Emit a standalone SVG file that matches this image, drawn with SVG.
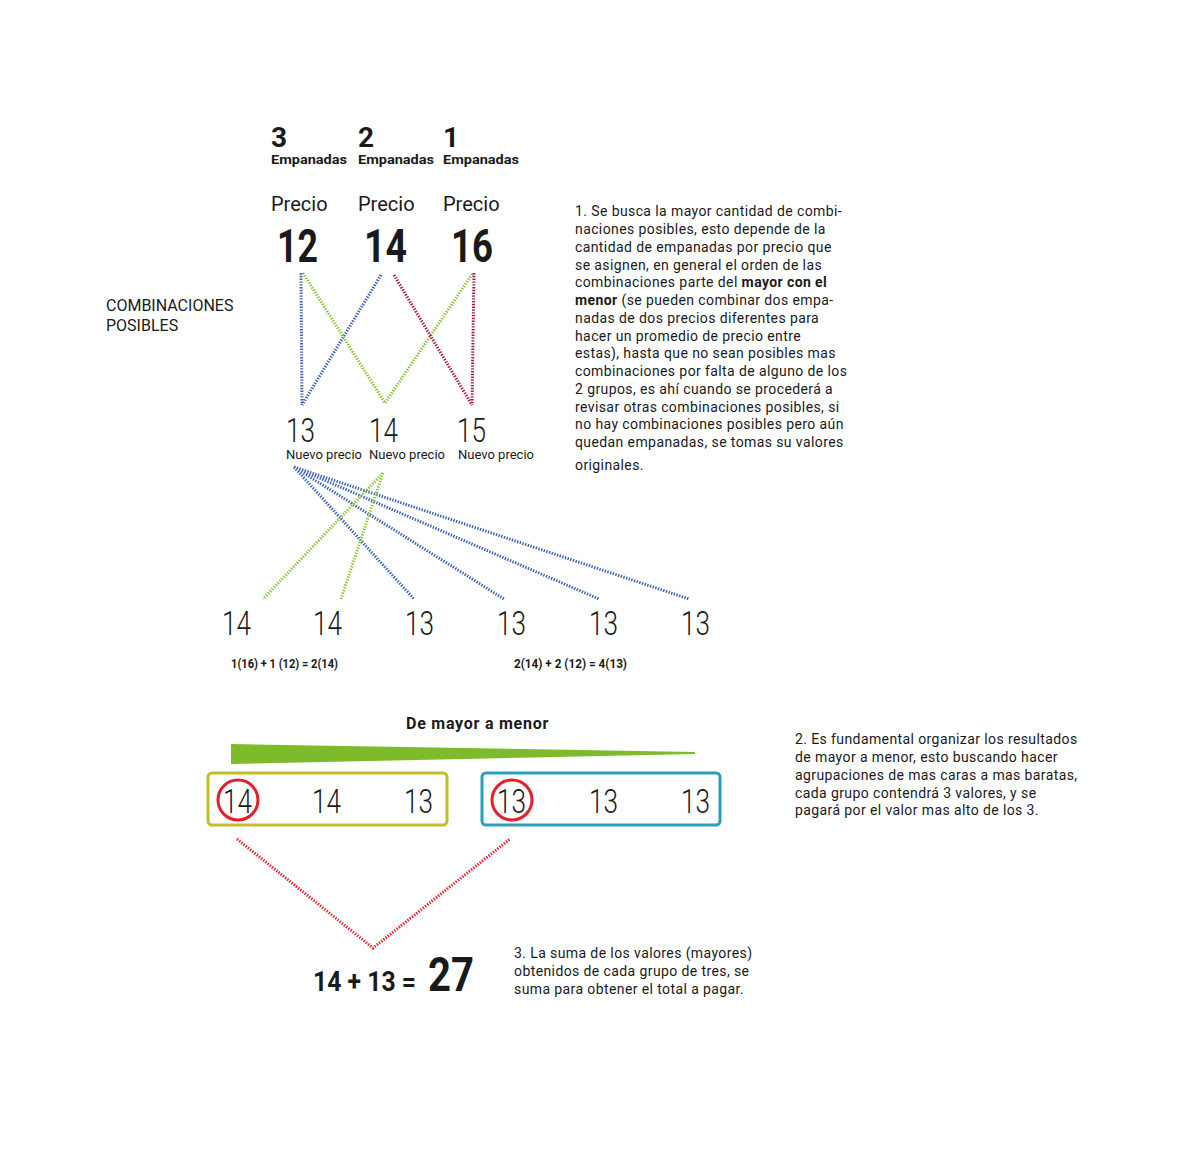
<svg xmlns="http://www.w3.org/2000/svg" width="1200" height="1151" viewBox="0 0 1200 1151">
<style>
text{font-family:Roboto,"DejaVu Sans",sans-serif;fill:#1a1a1a}
.b{font-weight:700}
.hd{font-size:28px;font-weight:700}
.emp{font-size:13px;font-weight:700}
.pre{font-size:20px}
.big{font-size:47px;font-weight:700}
.num{font-size:33px;font-weight:300}
.np{font-size:12.5px}
.p{font-size:14px;letter-spacing:0.4px}
.f{font-size:12px;font-weight:700}
.d{fill:none;stroke-width:3;stroke-dasharray:1.4 1.4}
.bl{stroke:#3d62b6}.gr{stroke:#8cc63f}.cr{stroke:#a3184a}.rd{stroke:#e5202b}
</style>
<rect width="1200" height="1151" fill="#fff"/>
<g id="header">
<text class="hd" x="271" y="147">3</text><text class="emp" x="271" y="164" textLength="76" lengthAdjust="spacingAndGlyphs">Empanadas</text>
<text class="hd" x="358" y="147">2</text><text class="emp" x="358" y="164" textLength="76" lengthAdjust="spacingAndGlyphs">Empanadas</text>
<text class="hd" x="443" y="147">1</text><text class="emp" x="443" y="164" textLength="76" lengthAdjust="spacingAndGlyphs">Empanadas</text>
</g>
<g id="prices">
<text class="pre" x="271" y="211">Precio</text><text class="big" x="277" y="262" textLength="41" lengthAdjust="spacingAndGlyphs">12</text>
<text class="pre" x="358" y="211">Precio</text><text class="big" x="364" y="262" textLength="43" lengthAdjust="spacingAndGlyphs">14</text>
<text class="pre" x="443" y="211">Precio</text><text class="big" x="451" y="262" textLength="42" lengthAdjust="spacingAndGlyphs">16</text>
</g>
<g id="label-comb"><text class="pre" style="font-size:16px" x="106" y="311">COMBINACIONES</text><text class="pre" style="font-size:16px" x="106" y="331">POSIBLES</text></g>
<g id="new-prices">
<text class="num" x="286" y="442" textLength="29" lengthAdjust="spacingAndGlyphs">13</text><text class="np" x="286" y="459" textLength="76" lengthAdjust="spacingAndGlyphs">Nuevo precio</text>
<text class="num" x="369" y="442" textLength="29" lengthAdjust="spacingAndGlyphs">14</text><text class="np" x="369" y="459" textLength="76" lengthAdjust="spacingAndGlyphs">Nuevo precio</text>
<text class="num" x="457" y="442" textLength="29" lengthAdjust="spacingAndGlyphs">15</text><text class="np" x="458" y="459" textLength="76" lengthAdjust="spacingAndGlyphs">Nuevo precio</text>
</g>
<g id="connectors">
<path class="d bl" d="M301 273L302 405M381 275L302 405"/>
<path class="d gr" d="M303 273L385 403L473 273"/>
<path class="d cr" d="M394 275L472 405M474 273L472 405"/>
<path class="d bl" d="M294 467L414 599M294 467L504 599M294 467L599 599M294 467L689 599"/>
<path class="d gr" d="M383 473L263 599M383 473L341 599"/>
<path class="d rd" d="M237 839L373 948L510 839"/>
</g>
<g id="paragraph-1">
<text class="p" x="575" y="216">1. Se busca la mayor cantidad de combi-</text>
<text class="p" x="575" y="234">naciones posibles, esto depende de la</text>
<text class="p" x="575" y="252">cantidad de empanadas por precio que</text>
<text class="p" x="575" y="270">se asignen, en general el orden de las</text>
<text class="p" x="575" y="287">combinaciones parte del <tspan class="b">mayor con el</tspan></text>
<text class="p" x="575" y="305"><tspan class="b">menor</tspan> (se pueden combinar dos empa-</text>
<text class="p" x="575" y="323">nadas de dos precios diferentes para</text>
<text class="p" x="575" y="341">hacer un promedio de precio entre</text>
<text class="p" x="575" y="358">estas), hasta que no sean posibles mas</text>
<text class="p" x="575" y="376">combinaciones por falta de alguno de los</text>
<text class="p" x="575" y="394">2 grupos, es ahí cuando se procederá a</text>
<text class="p" x="575" y="412">revisar otras combinaciones posibles, si</text>
<text class="p" x="575" y="429">no hay combinaciones posibles pero aún</text>
<text class="p" x="575" y="447">quedan empanadas, se tomas su valores</text>
<text class="p" x="575" y="470">originales.</text>
</g>
<g id="row">
<text class="num" x="222" y="635" textLength="29" lengthAdjust="spacingAndGlyphs">14</text><text class="num" x="313" y="635" textLength="29" lengthAdjust="spacingAndGlyphs">14</text><text class="num" x="405" y="635" textLength="29" lengthAdjust="spacingAndGlyphs">13</text>
<text class="num" x="497" y="635" textLength="29" lengthAdjust="spacingAndGlyphs">13</text><text class="num" x="589" y="635" textLength="29" lengthAdjust="spacingAndGlyphs">13</text><text class="num" x="681" y="635" textLength="29" lengthAdjust="spacingAndGlyphs">13</text>
<text class="f" x="231" y="668" textLength="107" lengthAdjust="spacingAndGlyphs">1(16) + 1 (12) = 2(14)</text>
<text class="f" x="514" y="668" textLength="113" lengthAdjust="spacingAndGlyphs">2(14) + 2 (12) = 4(13)</text>
</g>
<g id="order">
<text class="b" style="font-size:16px;letter-spacing:0.75px" x="406" y="729">De mayor a menor</text>
<polygon points="231,744 695,752 695,754 231,764" fill="#7dbb2b"/>
</g>
<g id="group-1">
<rect x="208" y="773" width="239" height="52" rx="4" fill="none" stroke="#c2bd2b" stroke-width="3"/>
<circle cx="238" cy="800" r="20" fill="none" stroke="#e3202a" stroke-width="3"/>
<text class="num" x="223" y="813" textLength="29" lengthAdjust="spacingAndGlyphs">14</text><text class="num" x="312" y="813" textLength="29" lengthAdjust="spacingAndGlyphs">14</text><text class="num" x="404" y="813" textLength="29" lengthAdjust="spacingAndGlyphs">13</text>
</g>
<g id="group-2">
<rect x="482" y="773" width="238" height="52" rx="4" fill="none" stroke="#2b9dbf" stroke-width="3"/>
<circle cx="512" cy="800" r="20" fill="none" stroke="#e3202a" stroke-width="3"/>
<text class="num" x="497" y="813" textLength="29" lengthAdjust="spacingAndGlyphs">13</text><text class="num" x="589" y="813" textLength="29" lengthAdjust="spacingAndGlyphs">13</text><text class="num" x="681" y="813" textLength="29" lengthAdjust="spacingAndGlyphs">13</text>
</g>
<g id="paragraph-2">
<text class="p" x="795" y="744">2. Es fundamental organizar los resultados</text>
<text class="p" x="795" y="762">de mayor a menor, esto buscando hacer</text>
<text class="p" x="795" y="780">agrupaciones de mas caras a mas baratas,</text>
<text class="p" x="795" y="798">cada grupo contendrá 3 valores, y se</text>
<text class="p" x="795" y="815">pagará por el valor mas alto de los 3.</text>
</g>
<g id="total">
<text class="b" style="font-size:27px" x="313" y="991" textLength="103" lengthAdjust="spacingAndGlyphs">14 + 13 =</text>
<text class="b" style="font-size:48px" x="428" y="991" textLength="46" lengthAdjust="spacingAndGlyphs">27</text>
</g>
<g id="paragraph-3">
<text class="p" x="514" y="958">3. La suma de los valores (mayores)</text>
<text class="p" x="514" y="976">obtenidos de cada grupo de tres, se</text>
<text class="p" x="514" y="994">suma para obtener el total a pagar.</text>
</g>
</svg>
